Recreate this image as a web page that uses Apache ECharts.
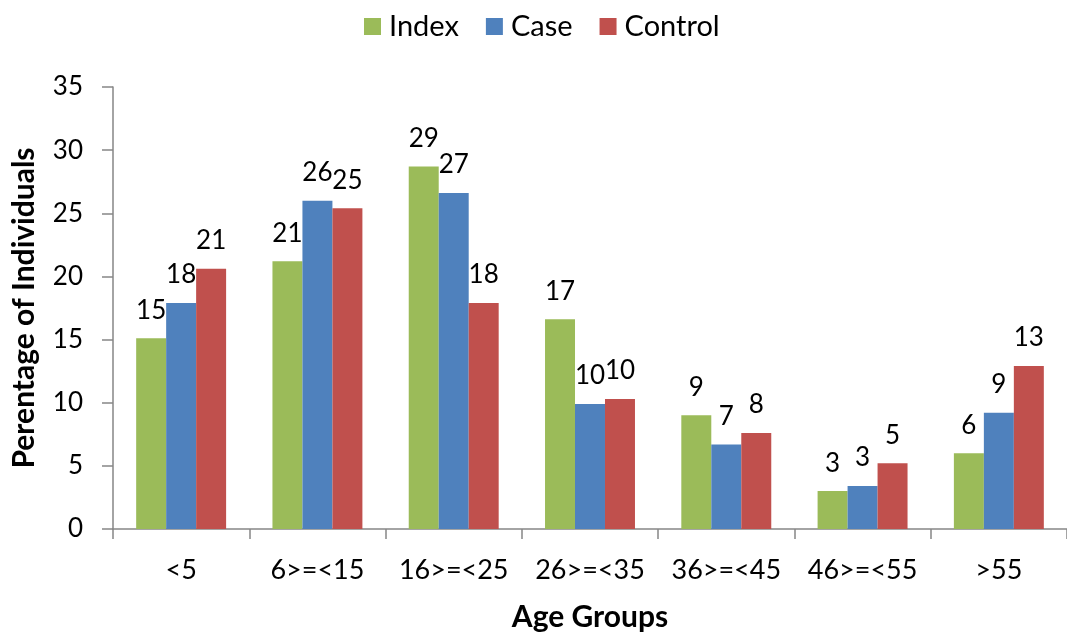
<!DOCTYPE html>
<html>
<head>
<meta charset="utf-8">
<script src="https://cdn.jsdelivr.net/npm/echarts@6/dist/echarts.min.js"></script>
<style>
html,body{margin:0;padding:0;background:#fff;}
#chart{width:1067px;height:637px;}
</style>
</head>
<body>
<div id="chart"></div>
<script>
const categories = ['<5', '6>=<15', '16>=<25', '26>=<35', '36>=<45', '46>=<55', '>55'];
const indexValues = [15.1, 21.2, 28.7, 16.6, 9.0, 3.0, 6.0];
const caseValues = [17.9, 26.0, 26.6, 9.9, 6.7, 3.4, 9.2];
const controlValues = [20.6, 25.4, 17.9, 10.3, 7.6, 5.2, 12.9];
const seriesNames = ['Index', 'Case', 'Control'];
const yTicks = { min: 0, max: 35, interval: 5 };

const FONT = 'Lato';
const colors = ['#9BBB59', '#4F81BD', '#C0504D'];

const label = {
  show: true,
  position: 'top',
  distance: 15,
  color: '#000',
  fontFamily: FONT,
  fontSize: 26,
  formatter: p => Math.round(p.value)
};

function bar(name, data, color) {
  return {
    name: name,
    type: 'bar',
    data: data,
    barGap: '0%',
    barCategoryGap: '34%',
    itemStyle: { color: color },
    label: label
  };
}

const chart = echarts.init(document.getElementById('chart'), null, { renderer: 'canvas' });
chart.setOption({
  animation: false,
  backgroundColor: '#fff',
  color: colors,
  legend: {
    top: 12,
    left: 364,
    padding: 0,
    itemWidth: 17,
    itemHeight: 17,
    itemGap: 27,
    icon: 'rect',
    textStyle: { fontFamily: FONT, fontSize: 29, color: '#000', padding: [0, 0, 0, 3] },
    data: seriesNames
  },
  grid: { left: 113, top: 87, width: 962.5, height: 447, containLabel: false },
  xAxis: {
    type: 'category',
    data: categories,
    name: 'Age Groups',
    nameLocation: 'middle',
    nameGap: 73,
    nameTextStyle: { fontFamily: FONT, fontSize: 30, fontWeight: 'bold', color: '#000' },
    axisLine: { lineStyle: { color: '#868686', width: 1.5 } },
    axisTick: { show: true, interval: 0, length: 10, lineStyle: { color: '#868686', width: 1.5 } },
    axisLabel: { interval: 0, margin: 28, fontFamily: FONT, fontSize: 27, color: '#000' }
  },
  yAxis: {
    type: 'value',
    min: yTicks.min,
    max: yTicks.max,
    interval: yTicks.interval,
    name: 'Perentage of Individuals',
    nameLocation: 'middle',
    nameRotate: 90,
    nameGap: 74,
    nameTextStyle: { fontFamily: FONT, fontSize: 30, fontWeight: 'bold', color: '#000' },
    splitLine: { show: false },
    axisLine: { show: true, lineStyle: { color: '#868686', width: 1.5 } },
    axisTick: { show: true, length: 11, lineStyle: { color: '#868686', width: 1.5 } },
    axisLabel: { margin: 30, fontFamily: FONT, fontSize: 26, color: '#000' }
  },
  series: [
    bar(seriesNames[0], indexValues, colors[0]),
    bar(seriesNames[1], caseValues, colors[1]),
    bar(seriesNames[2], controlValues, colors[2])
  ]
});
</script>
</body>
</html>
